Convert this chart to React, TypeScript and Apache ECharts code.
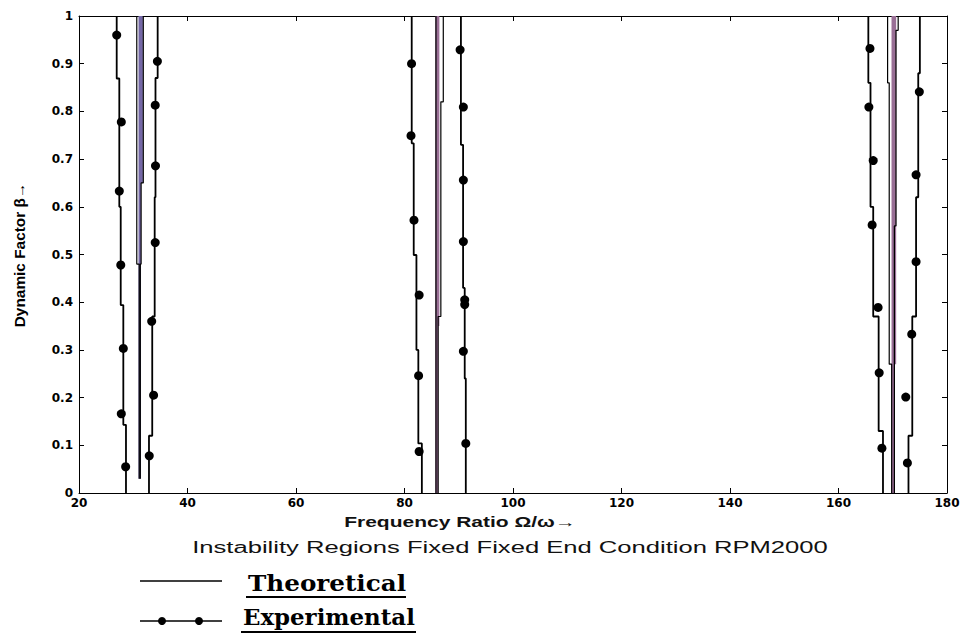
import React, { useEffect, useRef } from "react";
import * as echarts from "echarts";

// ---- axis ticks ----
const xTicks = [20, 40, 60, 80, 100, 120, 140, 160, 180];
const yTicks = [0, 0.1, 0.2, 0.3, 0.4, 0.5, 0.6, 0.7, 0.8, 0.9, 1];

// ---- experimental boundary lines (x = frequency ratio, y = dynamic factor) ----
const exp1Left = [[28.66, 0], [28.66, 0.143], [28.17, 0.143], [28.17, 0.394], [27.69, 0.394], [27.69, 0.6], [27.43, 0.6], [27.43, 0.869], [26.95, 0.869], [26.95, 1]];
const exp1Right = [[32.9, 0], [32.9, 0.12], [33.5, 0.12], [33.5, 0.37], [33.95, 0.37], [33.95, 0.62], [34.1, 0.62], [34.1, 0.87], [34.5, 0.87], [34.5, 1]];
const exp2Left = [[83.2, 0], [83.2, 0.104], [82.55, 0.104], [82.55, 0.3], [82.2, 0.3], [82.2, 0.499], [81.7, 0.499], [81.7, 0.733], [81.33, 0.733], [81.33, 1]];
const exp2Right = [[91.3, 0], [91.3, 0.24], [91.1, 0.24], [91.1, 0.43], [90.8, 0.43], [90.8, 0.73], [90.4, 0.73], [90.4, 1]];
const exp3Left = [[168.2, 0], [168.2, 0.13], [167.4, 0.13], [167.4, 0.37], [166.4, 0.37], [166.4, 0.6], [165.9, 0.6], [165.9, 0.86], [165.5, 0.86], [165.5, 1]];
const exp3Right = [[172.9, 0], [172.9, 0.12], [173.6, 0.12], [173.6, 0.37], [174.3, 0.37], [174.3, 0.62], [174.7, 0.62], [174.7, 0.88], [175.0, 0.88], [175.0, 1]];

// ---- experimental measured points ----
const expDots1Left = [[26.95, 0.96], [27.8, 0.778], [27.43, 0.633], [27.7, 0.478], [28.17, 0.303], [27.8, 0.166], [28.6, 0.055]];
const expDots1Right = [[34.45, 0.905], [34.05, 0.813], [34.1, 0.686], [34.05, 0.525], [33.4, 0.36], [33.75, 0.205], [32.95, 0.078]];
const expDots2Left = [[81.3, 0.9], [81.2, 0.749], [81.75, 0.572], [82.7, 0.415], [82.6, 0.246], [82.7, 0.087]];
const expDots2Right = [[90.25, 0.929], [90.85, 0.809], [90.85, 0.656], [90.85, 0.527], [91.1, 0.405], [91.1, 0.395], [90.85, 0.297], [91.3, 0.104]];
const expDots3Left = [[165.8, 0.932], [165.6, 0.809], [166.4, 0.697], [166.2, 0.562], [167.3, 0.389], [167.5, 0.252], [168.0, 0.094]];
const expDots3Right = [[174.9, 0.841], [174.3, 0.667], [174.3, 0.485], [173.5, 0.333], [172.4, 0.201], [172.7, 0.063]];

// ---- theoretical boundary lines ----
const th1Left = [[31.1, 0.03], [31.1, 0.48], [30.65, 0.48], [30.65, 1]];
const th1Right = [[31.3, 0.03], [31.3, 0.48], [31.45, 0.48], [31.45, 0.65], [31.85, 0.65], [31.85, 1]];
const th1BandLow = [[31.2, 0.03], [31.2, 1]];
const th1BandHigh = [[31.5, 0.65], [31.5, 1]];
const th2Left = [[85.8, 0], [85.8, 1]];
const th2Right = [[86.2, 0], [86.2, 0.37], [86.7, 0.37], [86.7, 0.82], [87.15, 0.82], [87.15, 1]];
const th2BandLow = [[85.95, 0], [85.95, 1]];
const th2BandHigh = [[86.2, 0.35], [86.2, 1]];
const th3Left = [[169.8, 0], [169.8, 0.27], [169.35, 0.27], [169.35, 0.86], [169.05, 0.86], [169.05, 1]];
const th3Right = [[170.3, 0], [170.3, 0.56], [170.6, 0.56], [170.6, 0.97], [171.0, 0.97], [171.0, 1]];
const th3BandLow = [[170.05, 0], [170.05, 1]];
const th3BandHigh = [[170.4, 0.27], [170.4, 1]];

const PURPLE1 = "#7467a6";
const PURPLE2 = "#9a6f96";
const FONT = "Liberation Sans";

function lineSeries(data: number[][], color: string, width: number, z = 3) {
  return {
    type: "line",
    data,
    showSymbol: false,
    symbol: "none",
    lineStyle: { color, width, opacity: 1 },
    z,
    silent: true,
  };
}
function dotSeries(data: number[][]) {
  return {
    type: "scatter",
    data,
    symbol: "circle",
    symbolSize: 9,
    itemStyle: { color: "#000", opacity: 1 },
    z: 5,
    silent: true,
  };
}

export default function App() {
  const ref = useRef<HTMLDivElement>(null);
  useEffect(() => {
    const chart = echarts.init(ref.current!, null, { renderer: "svg" });
    const axisCommon = {
      type: "value",
      axisLine: { show: true, onZero: false, lineStyle: { color: "#000", width: 1 } },
      axisTick: { show: true, inside: true, length: 5, lineStyle: { color: "#000" } },
      splitLine: { show: false },
    };
    const labelStyle = { color: "#000", fontFamily: "DejaVu Sans", fontWeight: "bold", fontSize: 12 };
    const option = {
      animation: false,
      backgroundColor: "#fff",
      grid: { left: 79, top: 16, width: 868, height: 477 },
      xAxis: [
        { ...axisCommon, min: xTicks[0], max: xTicks[xTicks.length - 1], interval: xTicks[1] - xTicks[0], position: "bottom", axisLabel: { ...labelStyle, margin: 4 } },
        { ...axisCommon, min: xTicks[0], max: xTicks[xTicks.length - 1], interval: xTicks[1] - xTicks[0], position: "top", axisLabel: { show: false } },
      ],
      yAxis: [
        { ...axisCommon, min: yTicks[0], max: yTicks[yTicks.length - 1], interval: 0.1, position: "left", axisLabel: { ...labelStyle, margin: 6, formatter: (v: number) => String(+v.toFixed(1)) } },
        { ...axisCommon, min: yTicks[0], max: yTicks[yTicks.length - 1], interval: 0.1, position: "right", axisLabel: { show: false } },
      ],
      series: [
        lineSeries(th1BandLow, PURPLE1, 2.5, 2),
        lineSeries(th1BandHigh, PURPLE1, 3, 2),
        lineSeries(th2BandLow, PURPLE2, 3, 2),
        lineSeries(th2BandHigh, PURPLE2, 2.5, 2),
        lineSeries(th3BandLow, PURPLE2, 3, 2),
        lineSeries(th3BandHigh, PURPLE2, 2.5, 2),
        lineSeries(th1Left, "#000", 1.2),
        lineSeries(th1Right, "#000", 1.2),
        lineSeries(th2Left, "#000", 1.2),
        lineSeries(th2Right, "#000", 1.2),
        lineSeries(th3Left, "#000", 1.2),
        lineSeries(th3Right, "#000", 1.2),
        lineSeries(exp1Left, "#000", 1.8),
        lineSeries(exp1Right, "#000", 1.8),
        lineSeries(exp2Left, "#000", 1.8),
        lineSeries(exp2Right, "#000", 1.8),
        lineSeries(exp3Left, "#000", 1.8),
        lineSeries(exp3Right, "#000", 1.8),
        dotSeries(expDots1Left),
        dotSeries(expDots1Right),
        dotSeries(expDots2Left),
        dotSeries(expDots2Right),
        dotSeries(expDots3Left),
        dotSeries(expDots3Right),
      ],
      graphic: [
        {
          type: "text",
          x: 20,
          y: 255,
          rotation: Math.PI / 2,
          scaleX: 1.1,
          style: { text: "Dynamic Factor β→", fontFamily: FONT, fontWeight: "bold", fontSize: 14, fill: "#000", align: "center", verticalAlign: "middle" },
        },
        {
          type: "text",
          x: 460,
          y: 522,
          scaleX: 1.5,
          style: { text: "Frequency Ratio Ω/ω→", fontFamily: FONT, fontWeight: "bold", fontSize: 14, fill: "#111", align: "center", verticalAlign: "middle" },
        },
        {
          type: "text",
          x: 510,
          y: 548,
          scaleX: 1.6,
          style: { text: "Instability Regions Fixed Fixed End Condition RPM2000", fontFamily: FONT, fontSize: 16, fill: "#111", align: "center", verticalAlign: "middle" },
        },
        { type: "line", shape: { x1: 140, y1: 581, x2: 222, y2: 581 }, style: { stroke: "#000", lineWidth: 1.3 } },
        {
          type: "text",
          x: 248,
          y: 583,
          scaleX: 1.12,
          style: { text: "Theoretical", fontFamily: "DejaVu Serif", fontWeight: "bold", fontSize: 22, fill: "#000", align: "left", verticalAlign: "middle" },
        },
        { type: "line", shape: { x1: 246, y1: 597, x2: 406, y2: 597 }, style: { stroke: "#000", lineWidth: 2 } },
        { type: "line", shape: { x1: 140, y1: 621, x2: 222, y2: 621 }, style: { stroke: "#000", lineWidth: 1.5 } },
        { type: "circle", shape: { cx: 162, cy: 621, r: 4 }, style: { fill: "#000" } },
        { type: "circle", shape: { cx: 199, cy: 621, r: 4 }, style: { fill: "#000" } },
        {
          type: "text",
          x: 243,
          y: 617,
          scaleX: 1.04,
          style: { text: "Experimental", fontFamily: "DejaVu Serif", fontWeight: "bold", fontSize: 22, fill: "#000", align: "left", verticalAlign: "middle" },
        },
        { type: "line", shape: { x1: 241, y1: 632, x2: 416, y2: 632 }, style: { stroke: "#000", lineWidth: 2 } },
      ],
    };
    chart.setOption(option as any);
    return () => chart.dispose();
  }, []);
  return (
    <div
      ref={ref}
      style={{ position: "fixed", left: 0, top: 0, width: 969, height: 639, background: "#fff" }}
    />
  );
}
